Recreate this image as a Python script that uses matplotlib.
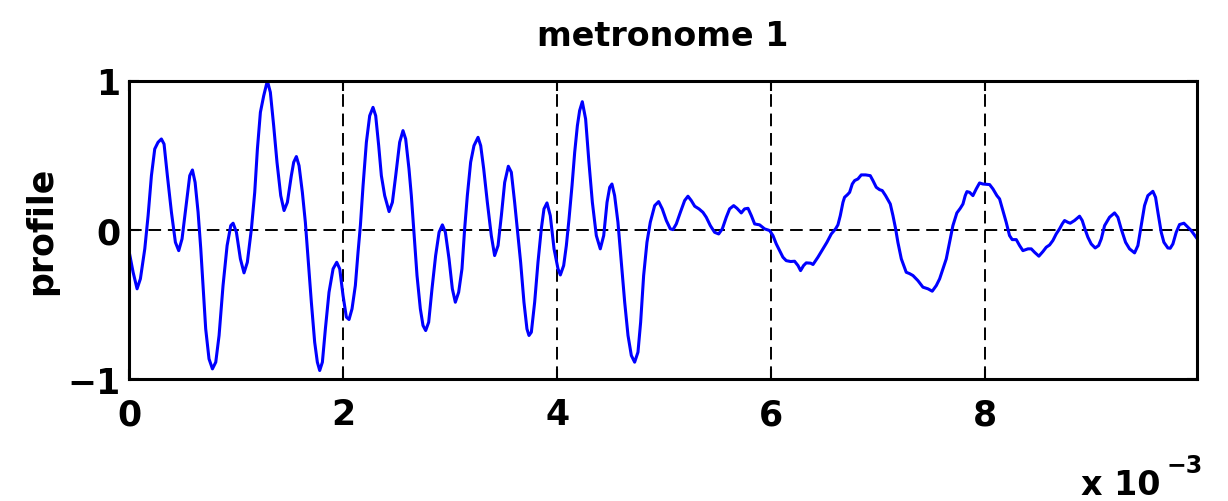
import numpy as np
import matplotlib
matplotlib.use("Agg")
import matplotlib.pyplot as plt

plt.rcParams['font.family'] = ['DejaVu Sans']
plt.rcParams['font.weight'] = 'bold'

# time in units of 1e-3, profile values
t_ms = [0.0, 0.039, 0.076, 0.107, 0.148, 0.179, 0.210, 0.241, 0.272, 0.303,
        0.328, 0.359, 0.397, 0.434, 0.465, 0.496, 0.537, 0.568, 0.593, 0.618,
        0.646, 0.671, 0.692, 0.717, 0.748, 0.780, 0.811, 0.842, 0.879, 0.917,
        0.951, 0.973, 1.004, 1.041, 1.075, 1.106, 1.144, 1.175, 1.200, 1.228,
        1.259, 1.293, 1.321, 1.352, 1.383, 1.418, 1.449, 1.480, 1.517, 1.539,
        1.564, 1.589, 1.620, 1.648, 1.676, 1.704, 1.735, 1.760, 1.782, 1.807,
        1.835, 1.869, 1.907, 1.941, 1.969, 2.000, 2.031, 2.056, 2.084, 2.115,
        2.140, 2.162, 2.187, 2.218, 2.249, 2.280, 2.305, 2.333, 2.358, 2.389,
        2.430, 2.461, 2.492, 2.529, 2.560, 2.585, 2.616, 2.638, 2.660, 2.691,
        2.722, 2.747, 2.772, 2.800, 2.831, 2.865, 2.897, 2.928, 2.956, 2.990,
        3.021, 3.049, 3.080, 3.111, 3.136, 3.161, 3.192, 3.223, 3.261, 3.286,
        3.314, 3.348, 3.385, 3.416, 3.448, 3.479, 3.510, 3.544, 3.572, 3.603,
        3.628, 3.659, 3.690, 3.718, 3.737, 3.759, 3.790, 3.821, 3.852, 3.877,
        3.905, 3.936, 3.971, 4.008, 4.030, 4.061, 4.086, 4.111, 4.139, 4.164,
        4.189, 4.210, 4.235, 4.266, 4.297, 4.329, 4.366, 4.403, 4.435, 4.466,
        4.491, 4.512, 4.537, 4.568, 4.600, 4.631, 4.662, 4.693, 4.724, 4.755,
        4.780, 4.808, 4.839, 4.870, 4.911, 4.948, 4.982, 5.020, 5.057, 5.082,
        5.113, 5.151, 5.191, 5.222, 5.253, 5.285, 5.325, 5.362, 5.393, 5.431,
        5.471, 5.509, 5.543, 5.580, 5.611, 5.649, 5.680, 5.720, 5.751, 5.783,
        5.814, 5.845, 5.891, 5.938, 5.985, 6.016, 6.047, 6.078, 6.109, 6.140,
        6.181, 6.218, 6.250, 6.274, 6.302, 6.327, 6.368, 6.390, 6.436, 6.483,
        6.520, 6.561, 6.601, 6.623, 6.645, 6.670, 6.685, 6.710, 6.732, 6.757,
        6.779, 6.810, 6.841, 6.882, 6.925, 6.950, 6.981, 7.012, 7.037, 7.068,
        7.112, 7.137, 7.162, 7.183, 7.215, 7.261, 7.292, 7.324, 7.370, 7.417,
        7.464, 7.504, 7.542, 7.573, 7.604, 7.635, 7.666, 7.697, 7.734, 7.766,
        7.791, 7.812, 7.828, 7.853, 7.884, 7.915, 7.946, 7.977, 8.009, 8.040,
        8.071, 8.108, 8.133, 8.164, 8.195, 8.226, 8.251, 8.289, 8.320, 8.351,
        8.398, 8.429, 8.460, 8.500, 8.538, 8.569, 8.600, 8.631, 8.662, 8.693,
        8.718, 8.740, 8.771, 8.793, 8.833, 8.880, 8.905, 8.930, 8.958, 8.989,
        9.026, 9.058, 9.083, 9.114, 9.160, 9.207, 9.238, 9.269, 9.310, 9.347,
        9.394, 9.425, 9.456, 9.487, 9.518, 9.565, 9.590, 9.612, 9.643, 9.668,
        9.705, 9.727, 9.752, 9.783, 9.814, 9.855, 9.892, 9.923, 9.954, 9.980]

profile = [-0.139, -0.284, -0.395, -0.328, -0.127, 0.096, 0.364, 0.543, 0.588, 0.610,
           0.576, 0.364, 0.118, -0.083, -0.139, -0.060, 0.185, 0.364, 0.402, 0.319,
           0.118, -0.127, -0.373, -0.664, -0.865, -0.932, -0.887, -0.708, -0.373, -0.105,
           0.029, 0.045, -0.016, -0.194, -0.288, -0.217, 0.007, 0.252, 0.543, 0.789,
           0.900, 1.000, 0.923, 0.699, 0.454, 0.230, 0.130, 0.185, 0.364, 0.454,
           0.492, 0.431, 0.252, 0.051, -0.217, -0.485, -0.753, -0.887, -0.943, -0.887,
           -0.664, -0.418, -0.261, -0.217, -0.261, -0.440, -0.585, -0.601, -0.529, -0.373,
           -0.150, 0.029, 0.297, 0.588, 0.766, 0.822, 0.766, 0.565, 0.364, 0.230,
           0.123, 0.185, 0.364, 0.588, 0.666, 0.610, 0.409, 0.230, 0.007, -0.306,
           -0.529, -0.641, -0.675, -0.619, -0.395, -0.172, -0.016, 0.034, -0.016, -0.194,
           -0.395, -0.485, -0.418, -0.261, 0.007, 0.230, 0.454, 0.565, 0.621, 0.565,
           0.409, 0.185, -0.038, -0.172, -0.105, 0.096, 0.319, 0.427, 0.387, 0.185,
           0.007, -0.217, -0.485, -0.664, -0.708, -0.686, -0.485, -0.217, 0.007, 0.141,
           0.181, 0.096, -0.127, -0.261, -0.302, -0.239, -0.105, 0.074, 0.297, 0.521,
           0.699, 0.800, 0.860, 0.744, 0.454, 0.185, -0.038, -0.127, -0.038, 0.185,
           0.286, 0.308, 0.230, 0.051, -0.217, -0.485, -0.708, -0.842, -0.887, -0.820,
           -0.619, -0.306, -0.083, 0.051, 0.163, 0.190, 0.141, 0.063, 0.007, 0.002,
           0.040, 0.118, 0.197, 0.226, 0.197, 0.159, 0.141, 0.118, 0.085, 0.029,
           -0.016, -0.027, 0.007, 0.085, 0.141, 0.163, 0.145, 0.114, 0.141, 0.145,
           0.096, 0.040, 0.034, 0.007, -0.004, -0.038, -0.094, -0.139, -0.183, -0.206,
           -0.212, -0.210, -0.239, -0.273, -0.239, -0.221, -0.223, -0.232, -0.183, -0.127,
           -0.083, -0.027, 0.007, 0.034, 0.096, 0.185, 0.219, 0.235, 0.252, 0.308,
           0.331, 0.342, 0.369, 0.369, 0.364, 0.331, 0.286, 0.270, 0.264, 0.230,
           0.174, 0.096, 0.007, -0.083, -0.194, -0.284, -0.293, -0.306, -0.340, -0.384,
           -0.395, -0.411, -0.373, -0.328, -0.261, -0.194, -0.083, 0.029, 0.114, 0.145,
           0.174, 0.230, 0.257, 0.252, 0.230, 0.275, 0.315, 0.308, 0.306, 0.304,
           0.275, 0.230, 0.208, 0.130, 0.051, -0.038, -0.065, -0.065, -0.105, -0.139,
           -0.127, -0.127, -0.150, -0.176, -0.145, -0.116, -0.101, -0.071, -0.027, 0.007,
           0.040, 0.063, 0.051, 0.045, 0.063, 0.092, 0.063, 0.007, -0.049, -0.094,
           -0.121, -0.105, -0.060, 0.029, 0.085, 0.114, 0.085, 0.007, -0.083, -0.127,
           -0.154, -0.105, 0.029, 0.163, 0.230, 0.259, 0.219, 0.118, -0.016, -0.083,
           -0.121, -0.123, -0.094, -0.016, 0.036, 0.045, 0.018, -0.004, -0.034, -0.060]

xticks = [0, 2, 4, 6, 8]
yticks = [-1, 0, 1]

t = np.array(t_ms) * 1e-3

fig = plt.figure(figsize=(12.28, 5.02), dpi=100)
ax = fig.add_axes([0.105, 0.243, 0.870, 0.594])

ax.plot(t, profile, color='#0000ff', lw=2.2)

ax.set_xlim(0, 9.98e-3)
ax.set_ylim(-1, 1)
ax.set_xticks([v * 1e-3 for v in xticks])
ax.set_xticklabels([str(v) for v in xticks])
ax.set_yticks(yticks)
ax.set_yticklabels(['\u22121', '0', '1'])

ax.grid(True, color='black', linestyle=(0, (6.5, 3.5)), lw=1.4)
ax.tick_params(direction='in', length=7, width=1.5, labelsize=25,
               top=True, right=True)
ax.tick_params(axis='x', pad=13)
ax.tick_params(axis='y', pad=6)
for s in ax.spines.values():
    s.set_linewidth(2.2)

ax.set_title('metronome 1', fontsize=24, fontweight='bold', pad=26)
ax.set_ylabel('profile', fontsize=25, fontweight='bold', labelpad=7)

ax.text(0.9654, -0.386, 'x 10', transform=ax.transAxes, fontsize=24,
        fontweight='bold', ha='right', va='baseline')
ax.text(0.971, -0.312, '\u22123', transform=ax.transAxes, fontsize=17,
        fontweight='bold', ha='left', va='baseline')

fig.savefig('out.png', dpi=100)
